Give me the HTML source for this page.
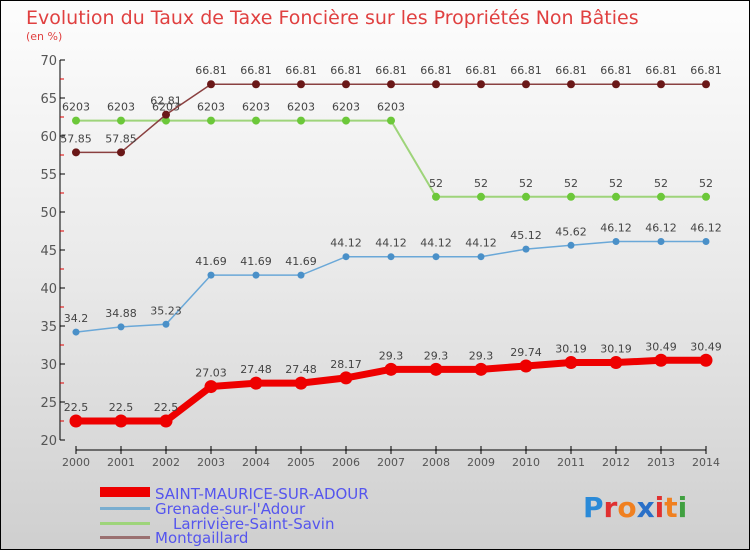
<!DOCTYPE html>
<html><head><meta charset="utf-8"><style>
body{margin:0}
#c{width:750px;height:550px;position:relative;overflow:hidden;background:linear-gradient(#fdfdfd,#e9e9e9 50%,#cfcfcf);font-family:"DejaVu Sans","Liberation Sans",sans-serif}
</style></head><body>
<div id="c">
<svg id="s" width="750" height="550">
<rect x="0.5" y="0.5" width="749" height="549" fill="none" stroke="#000"/>
<text x="26" y="24" font-size="19" fill="#e04040">Evolution du Taux de Taxe Foncière sur les Propriétés Non Bâties</text>
<text x="26" y="40" font-size="11" fill="#e04040">(en %)</text>
<g id="ax"></g><g id="ser"></g>
<g>
<rect x="100" y="487" width="50" height="10" fill="#e00"/>
<text x="155" y="499" font-size="15" fill="#5555ee">SAINT-MAURICE-SUR-ADOUR</text>
<rect x="100" y="507" width="50" height="3" fill="#7aaed0"/>
<text x="155" y="514" font-size="15" fill="#5555ee">Grenade-sur-l'Adour</text>
<rect x="100" y="522" width="50" height="3" fill="#9ed47a"/>
<text x="173" y="529" font-size="15" fill="#5555ee">Larrivière-Saint-Savin</text>
<rect x="100" y="536" width="50" height="3" fill="#9a7070"/>
<text x="155" y="543" font-size="15" fill="#5555ee">Montgaillard</text>
</g>
<text x="583" y="517" font-size="28" font-weight="bold"><tspan fill="#2a8ad8">P</tspan><tspan fill="#e03030">r</tspan><tspan fill="#f08020">o</tspan><tspan fill="#2a70c8">x</tspan><tspan fill="#e03030">i</tspan><tspan fill="#f08020">t</tspan><tspan fill="#40a040">i</tspan></text>
</svg></div>
<script>
const years=[2000,2001,2002,2003,2004,2005,2006,2007,2008,2009,2010,2011,2012,2013,2014];
const yTicks=[20,25,30,35,40,45,50,55,60,65,70];
const saint=[22.5,22.5,22.5,27.03,27.48,27.48,28.17,29.3,29.3,29.3,29.74,30.19,30.19,30.49,30.49];
const grenade=[34.2,34.88,35.23,41.69,41.69,41.69,44.12,44.12,44.12,44.12,45.12,45.62,46.12,46.12,46.12];
const larr=[62.03,62.03,62.03,62.03,62.03,62.03,62.03,62.03,52,52,52,52,52,52,52];
const mont=[57.85,57.85,62.81,66.81,66.81,66.81,66.81,66.81,66.81,66.81,66.81,66.81,66.81,66.81,66.81];
const X=i=>76+i*45, Y=v=>440-(v-20)*7.6;
const NS="http://www.w3.org/2000/svg";
function mk(t,a,p){const e=document.createElementNS(NS,t);for(const k in a)e.setAttribute(k,a[k]);p.appendChild(e);return e;}
const ax=document.getElementById('ax'), ser=document.getElementById('ser');
let e=mk('line',{x1:60,y1:60,x2:60,y2:440,stroke:'#000'},ax);

yTicks.forEach(v=>{mk('line',{x1:60,y1:Y(v),x2:65,y2:Y(v),stroke:'#000'},ax);
 if(v<70)mk('line',{x1:60,y1:Y(v+2.5),x2:64,y2:Y(v+2.5),stroke:'#d00'},ax);
 const t=mk('text',{x:57,y:Y(v)+5,'font-size':13,fill:'#555','text-anchor':'end'},ax);t.textContent=v;
 });
e=mk('line',{x1:76,y1:450,x2:706,y2:450,stroke:'#000'},ax);

years.forEach((y,i)=>{mk('line',{x1:X(i),y1:446,x2:X(i),y2:454,stroke:'#000'},ax);
 const t=mk('text',{x:X(i),y:466,'font-size':11,fill:'#555','text-anchor':'middle'},ax);t.textContent=y;
 });
function fmt(v){return String(v).replace('.','') .length&&String(v);}
function series(d,col,w,r,dot,name,lab){
 const g=mk('g',{},ser);
 const p=mk('polyline',{points:d.map((v,i)=>X(i)+','+Y(v)).join(' '),fill:'none',stroke:col,'stroke-width':w},g);
 
 d.forEach((v,i)=>{const c=mk('circle',{cx:X(i),cy:Y(v),r:r,fill:dot},g);
  
  const t=mk('text',{x:X(i),y:Y(v)-10,'font-size':11,fill:'#444','text-anchor':'middle'},g);t.textContent=lab(v);
  });
}
const L=v=>String(v);
series(larr,'#9ed47a',2,4,'#6cc83a','series-larriviere',v=>v===62.03?'6203':L(v));
series(mont,'#8a4040',1.5,4,'#6a1818','series-montgaillard',L);
series(grenade,'#6aa8d8',1.5,3.5,'#4a90c8','series-grenade',L);
series(saint,'#e00',7,6.5,'#e00','series-saint-maurice',L);
</script></body></html>
